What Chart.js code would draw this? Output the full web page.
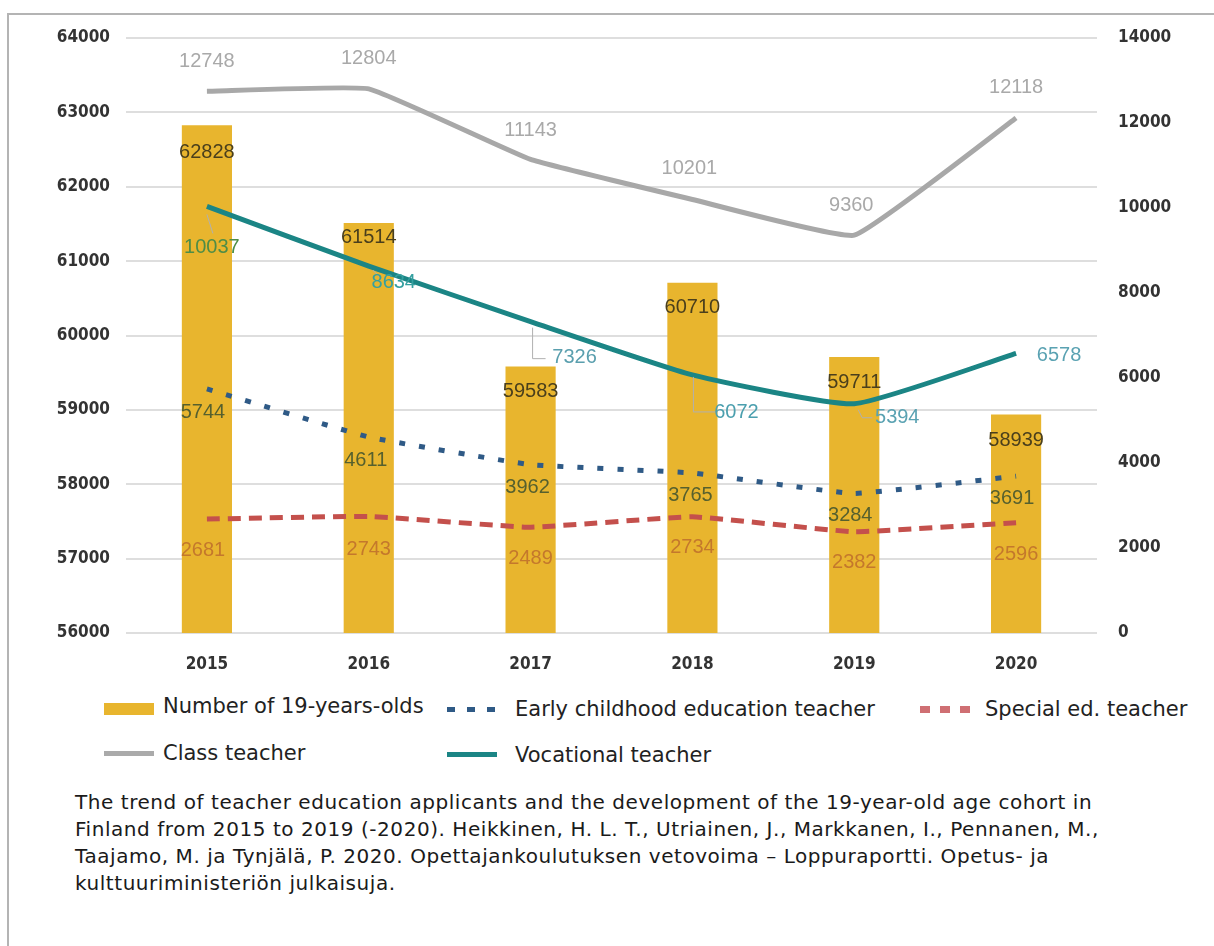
<!DOCTYPE html>
<html>
<head>
<meta charset="utf-8">
<script src="https://cdn.jsdelivr.net/npm/chart.js@4.4.1/dist/chart.umd.min.js"></script>
<style>
  body { margin: 0; background: #fff; width: 1214px; height: 946px; overflow: hidden; position: relative; }
  #frame { position: absolute; left: 7px; top: 13px; width: 1220px; height: 950px;
           border-left: 2px solid #b4b4b4; border-top: 2px solid #b4b4b4; }
  #chart { position: absolute; left: 0; top: 0; }
  .item { position: absolute; font-family: "DejaVu Sans", sans-serif; font-size: 21px; color: #222;
          line-height: 24px; white-space: nowrap; }
  .sw { position: absolute; }
  #caption { position: absolute; left: 75px; top: 789px; font-family: "DejaVu Sans", sans-serif;
             font-size: 20px; letter-spacing: 0.55px; line-height: 27px; color: #1a1a1a; white-space: nowrap; }
</style>
</head>
<body>
<div id="frame"></div>
<canvas id="chart" width="1214" height="690"></canvas>

<div class="sw" style="left:104px;top:703px;width:50px;height:12px;background:#e8b52e"></div>
<div class="item" style="left:163px;top:694px">Number of 19-years-olds</div>
<div class="sw" style="left:447px;top:707px;width:48px;height:5px;background:repeating-linear-gradient(90deg,#2f5a86 0 8px,transparent 8px 20px)"></div>
<div class="item" style="left:515px;top:697px">Early childhood education teacher</div>
<div class="sw" style="left:920px;top:706px;width:50px;height:7px;background:repeating-linear-gradient(90deg,#cf6f73 0 10px,transparent 10px 20px)"></div>
<div class="item" style="left:985px;top:697px">Special ed. teacher</div>
<div class="sw" style="left:104px;top:751px;width:50px;height:5px;background:#aaaaaa"></div>
<div class="item" style="left:163px;top:741px">Class teacher</div>
<div class="sw" style="left:447px;top:752px;width:50px;height:5px;background:#1b8585"></div>
<div class="item" style="left:515px;top:743px">Vocational teacher</div>

<div id="caption">The trend of teacher education applicants and the development of the 19-year-old age cohort in<br>Finland from 2015 to 2019 (-2020). Heikkinen, H. L. T., Utriainen, J., Markkanen, I., Pennanen, M.,<br>Taajamo, M. ja Tynjälä, P. 2020. Opettajankoulutuksen vetovoima – Loppuraportti. Opetus- ja<br>kulttuuriministeriön julkaisuja.</div>

<script>
const years = ['2015', '2016', '2017', '2018', '2019', '2020'];
const cohort = [62828, 61514, 59583, 60710, 59711, 58939];
const classTeacher = [12748, 12804, 11143, 10201, 9360, 12118];
const vocational = [10037, 8634, 7326, 6072, 5394, 6578];
const earlyChildhood = [5744, 4611, 3962, 3765, 3284, 3691];
const specialEd = [2681, 2743, 2489, 2734, 2382, 2596];
const cohortRange = [56000, 64000, 1000];
const applicantRange = [0, 14000, 2000];

const tickFont = { family: '"DejaVu Sans Condensed", sans-serif', size: 17, weight: 'bold' };
const tagFont = '20px "Liberation Sans Narrow", sans-serif';

// where each number sits relative to its point, plus thin leader lines for the vocational series
const tags = [
  { ds: 0, color: '#4a3f1c', off: [[0, 27], [0, 15], [0, 25], [0, 25], [0, 25], [0, 26]] },
  { ds: 1, color: '#a9a9a9', off: [[0, -30], [0, -30], [0, -29], [-3, -31], [-3, -30], [0, -31]] },
  { ds: 2, color: ['#4e8d46', '#35a0a0', '#5a9fae', '#4b9fae', '#5aa2b2', '#5aa2b2'],
    off: [[5, 41], [25, 16], [44, 36], [44, 38], [43, 14], [43, 2]],
    leaders: [[[0, 8], [6, 27]], [[4, 4], [12, 12]], [[2, 6], [2, 37], [15, 37]],
              [[1, 2], [1, 37], [23, 37]], [[4, 6], [8, 14], [18, 14]], null] },
  { ds: 3, color: '#56602e', off: [[-4, 24], [-3, 23], [-3, 23], [-2, 22], [-4, 22], [-4, 22]] },
  { ds: 4, color: '#c4782c', off: [[-4, 31], [0, 33], [0, 31], [0, 31], [0, 31], [0, 32]] }
];

const valueTags = {
  id: 'valueTags',
  afterDatasetsDraw(chart) {
    const ctx = chart.ctx;
    ctx.save();
    ctx.font = tagFont;
    ctx.textAlign = 'center';
    ctx.textBaseline = 'middle';
    tags.forEach(t => {
      const meta = chart.getDatasetMeta(t.ds);
      const values = chart.data.datasets[t.ds].data;
      meta.data.forEach((el, i) => {
        const lead = t.leaders && t.leaders[i];
        if (lead) {
          ctx.strokeStyle = '#b0b0b0';
          ctx.lineWidth = 1;
          ctx.beginPath();
          lead.forEach((p, k) => k ? ctx.lineTo(el.x + p[0], el.y + p[1]) : ctx.moveTo(el.x + p[0], el.y + p[1]));
          ctx.stroke();
        }
        ctx.fillStyle = Array.isArray(t.color) ? t.color[i] : t.color;
        ctx.fillText(String(values[i]), el.x + t.off[i][0], el.y + t.off[i][1]);
      });
    });
    ctx.restore();
  }
};

const line = (label, data, color, extra) => Object.assign({
  type: 'line', label, data, yAxisID: 'y2', borderColor: color, backgroundColor: color,
  borderWidth: 5, pointRadius: 0, tension: 0.1, fill: false, order: 1
}, extra);

new Chart(document.getElementById('chart'), {
  data: {
    labels: years,
    datasets: [
      { type: 'bar', label: 'Number of 19-years-olds', data: cohort, yAxisID: 'y',
        backgroundColor: '#e8b52e', categoryPercentage: 1, barPercentage: 0.31, order: 10 },
      line('Class teacher', classTeacher, '#a8a8a8'),
      line('Vocational teacher', vocational, '#1b8585', { tension: 0.15 }),
      line('Early childhood education teacher', earlyChildhood, '#2f5a86',
        { borderDash: [6, 14], borderCapStyle: 'butt' }),
      line('Special ed. teacher', specialEd, '#c4504c',
        { borderDash: [13, 8], borderCapStyle: 'butt' })
    ]
  },
  options: {
    responsive: false,
    animation: false,
    devicePixelRatio: 1,
    layout: { padding: { top: 38, left: 0, right: 0, bottom: 0 } },
    plugins: { legend: { display: false }, tooltip: { enabled: false } },
    scales: {
      x: {
        offset: true,
        grid: { display: false },
        border: { display: false },
        ticks: { font: tickFont, color: '#333', padding: 13 },
        afterFit: s => { s.height = 57; }
      },
      y: {
        position: 'left',
        min: cohortRange[0], max: cohortRange[1],
        grid: { color: '#dedede', lineWidth: 2, drawTicks: false },
        border: { display: false },
        ticks: { stepSize: cohortRange[2], font: tickFont, color: '#333', padding: 16, callback: v => String(v) },
        afterFit: s => { s.width = 126; }
      },
      y2: {
        position: 'right',
        min: applicantRange[0], max: applicantRange[1],
        grid: { display: false, drawTicks: false },
        border: { display: false },
        ticks: { stepSize: applicantRange[2], font: tickFont, color: '#333', padding: 21, callback: v => String(v) },
        afterFit: s => { s.width = 117; }
      }
    }
  },
  plugins: [valueTags]
});
</script>
</body>
</html>
